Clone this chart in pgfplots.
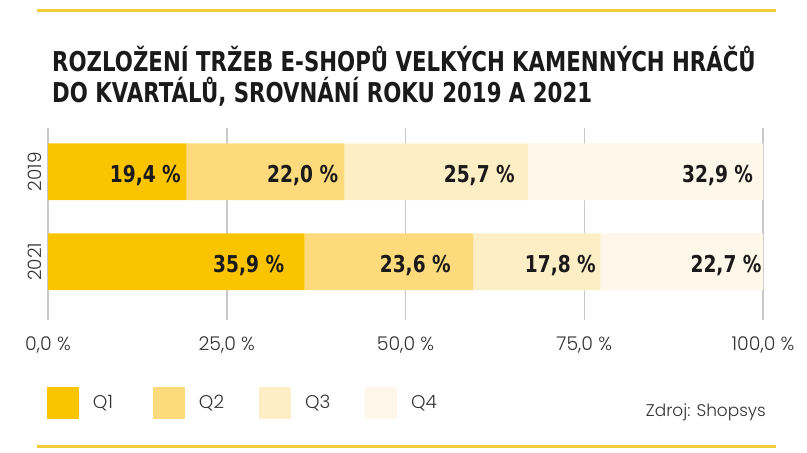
\documentclass[border=0pt]{standalone}
\usepackage{pgfplots}
\pgfplotsset{compat=1.18}
\usepackage{fontspec}
\setmainfont{Poppins Light}
\newfontfamily\condfont{DejaVu Sans}[FakeStretch=0.78]
\newfontfamily\labfont{DejaVu Sans}[FakeStretch=0.8]
\definecolor{qone}{HTML}{FBC400}
\definecolor{qtwo}{HTML}{FDDA7C}
\definecolor{qthree}{HTML}{FEEEC6}
\definecolor{qfour}{HTML}{FFF8EA}
\definecolor{lineyellow}{HTML}{F3CE3A}
\definecolor{gridgray}{HTML}{C9C9C9}
\definecolor{darktext}{HTML}{1A1A1A}
\definecolor{lighttext}{HTML}{333333}
\begin{document}
\begin{tikzpicture}[x=1bp,y=1bp]
\path[use as bounding box] (0,0) rectangle (807,453);
\draw[lineyellow, line width=2.5bp] (37,442.3) -- (776,442.3);
\draw[lineyellow, line width=2.5bp] (37,6.3) -- (776,6.3);
\node[anchor=base west, inner sep=0pt, text=darktext, font=\condfont\bfseries\fontsize{27.4}{31}\selectfont] at (52,381) {ROZLOŽENÍ TRŽEB E-SHOPŮ VELKÝCH KAMENNÝCH HRÁČŮ};
\node[anchor=base west, inner sep=0pt, text=darktext, font=\condfont\bfseries\fontsize{27.4}{31}\selectfont] at (52,350) {DO KVARTÁLŮ, SROVNÁNÍ ROKU 2019 A 2021};
\node[anchor=base east, inner sep=0pt, text=lighttext, font=\fontsize{17}{20}\selectfont] at (766,36) {Zdroj: Shopsys};
\begin{axis}[
  at={(48bp,133bp)}, anchor=south west,
  width=715bp, height=192bp, scale only axis,
  xbar stacked, bar width=56.7bp,
  xmin=0, xmax=100, ymin=-0.648, ymax=1.486,
  axis line style={draw=none},
  major tick length=0pt,
  xmajorgrids, major grid style={draw=gridgray, line width=1.5bp},
  xtick={0,25,50,75,100},
  /pgf/number format/assume math mode=true,
  xticklabel={\pgfmathprintnumber[fixed,fixed zerofill,precision=1,use comma,assume math mode=true]{\tick}\ \%},
  xticklabel style={anchor=base, yshift=-30.7bp, font=\fontsize{19}{22}\selectfont, text=lighttext},
  ytick={0,1}, yticklabels={2021,2019},
  yticklabel style={rotate=90, anchor=center, font=\fontsize{18.5}{21}\selectfont, text=lighttext},
  yticklabel shift=13bp,
  clip=false,
  legend columns=4,
  legend cell align=left,
  legend style={at={(axis description cs:-0.0014,-0.432)}, anchor=west, draw=none, fill=none, inner sep=0pt, outer sep=0pt, column sep=0pt,
    font=\fontsize{18.5}{20}\selectfont, text=lighttext, nodes={inner sep=0pt, text width=60bp, align=left}},
]
\addplot[fill=qone, draw=none, legend image code/.code={\fill[qone] (0bp,-16bp) rectangle (32bp,16bp); \path (46bp,0bp);}] coordinates {(35.9,0) (19.4,1)};
\addplot[fill=qtwo, draw=none, legend image code/.code={\fill[qtwo] (0bp,-16bp) rectangle (32bp,16bp); \path (46bp,0bp);}] coordinates {(23.6,0) (22.0,1)};
\addplot[fill=qthree, draw=none, legend image code/.code={\fill[qthree] (0bp,-16bp) rectangle (32bp,16bp); \path (46bp,0bp);}] coordinates {(17.8,0) (25.7,1)};
\addplot[fill=qfour, draw=none, legend image code/.code={\fill[qfour] (0bp,-16bp) rectangle (32bp,16bp); \path (46bp,0bp);}] coordinates {(22.7,0) (32.9,1)};
\legend{Q1,Q2,Q3,Q4}
\end{axis}
\begin{axis}[
  at={(48bp,133bp)}, anchor=south west,
  width=715bp, height=192bp, scale only axis,
  xmin=0, xmax=100, ymin=-0.648, ymax=1.486,
  hide axis, clip=false,
]
\addplot[draw=none, mark=none, nodes near coords, point meta=explicit symbolic,
  every node near coord/.style={anchor=base east, inner sep=0pt, yshift=-10.6bp, text=darktext, font=\labfont\bfseries\fontsize{23.3}{26}\selectfont}]
  coordinates {
  (18.60,1) [19,4 \%]
  (40.60,1) [22,0 \%]
  (65.31,1) [25,7 \%]
  (98.64,1) [32,9 \%]
  (33.05,0) [35,9 \%]
  (56.36,0) [23,6 \%]
  (76.64,0) [17,8 \%]
  (99.82,0) [22,7 \%]
  };
\end{axis}
\end{tikzpicture}
\end{document}
